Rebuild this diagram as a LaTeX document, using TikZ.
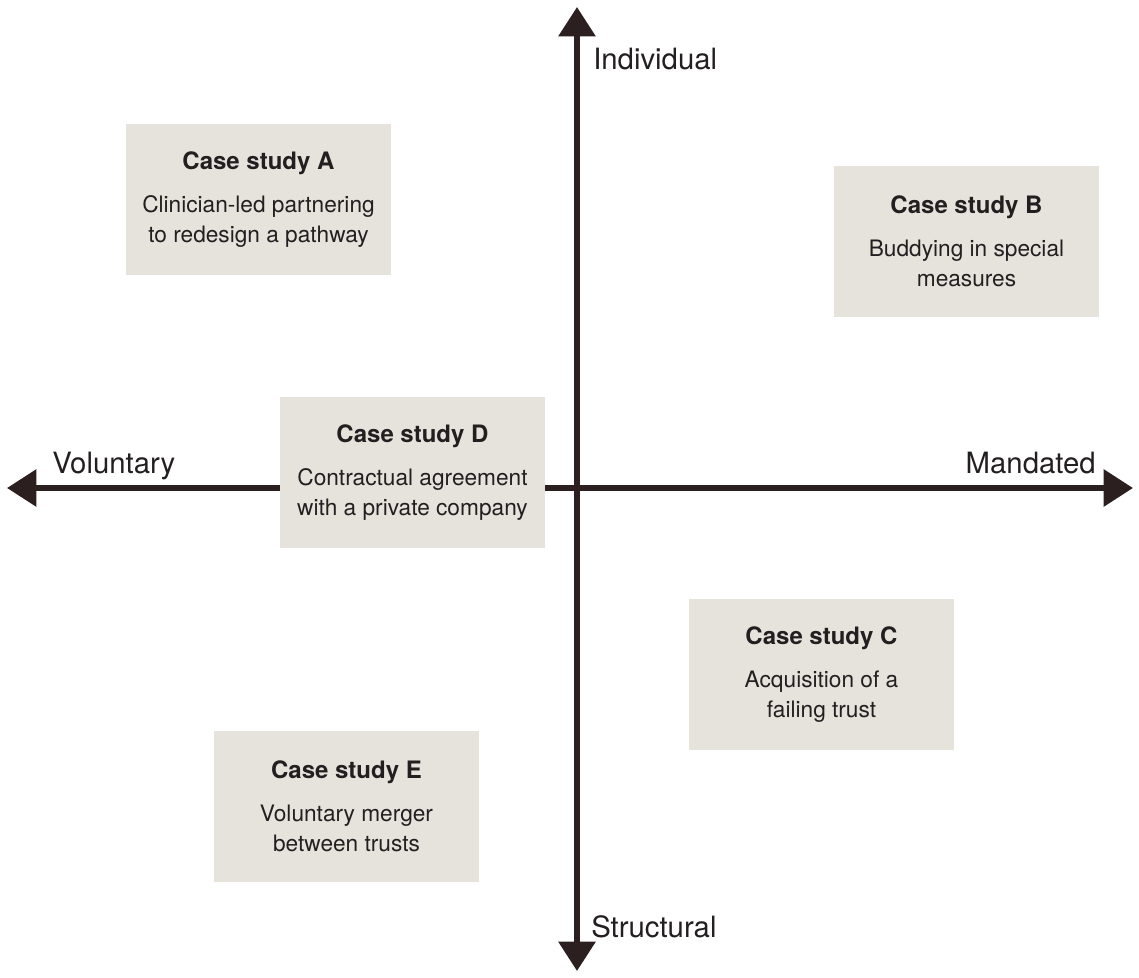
\documentclass[tikz,border=0pt]{standalone}
\usepackage{fontspec}
\setmainfont{TeX Gyre Heros}
\usetikzlibrary{arrows.meta}
\usetikzlibrary{positioning}

\definecolor{axisink}{HTML}{2B1F20}
\definecolor{boxfill}{HTML}{E6E2DC}
\definecolor{textink}{HTML}{231F20}

\tikzset{
  axis/.style={axisink,line width=4.5pt,-{Triangle[length=22pt,width=27pt]}},
  casebox/.style={fill=boxfill,minimum width=198.75pt,minimum height=113.25pt,
    align=center,text=textink,font=\fontsize{17}{22.5}\selectfont},
  axislabel/.style={text=textink,font=\fontsize{22}{24}\selectfont,inner sep=0pt}
}
\newcommand{\casehead}[1]{{\fontsize{18}{22}\selectfont\bfseries #1}\\[9.5pt]}

\begin{document}
\begin{tikzpicture}[x=0.75pt,y=-0.75pt]
      \useasboundingbox (0,0) rectangle (1139,978);
      % axes
      \coordinate (o) at (577,488);
      \coordinate (up) at (577,7);
      \coordinate (down) at (577,971);
      \coordinate (left) at (7,488);
      \coordinate (right) at (1133,488);
      \draw[axis] (o) -- (up);
      \draw[axis] (o) -- (down);
      \draw[axis] (o) -- (left);
      \draw[axis] (o) -- (right);

      \node[axislabel,anchor=base west] (indiv) at (593,69) {Individual};
      \node[axislabel,anchor=base west] (struct) at (591,937) {Structural};
      \node[axislabel,anchor=base west] (volun) at (52,473) {Voluntary};
      \node[axislabel,anchor=base east] (mand) at (1096,473) {Mandated};

      % case studies
      \node[casebox] (csA) at (258.5,199.5) {\casehead{Case study A}
        Clinician-led partnering\\to redesign a pathway};
      \node[casebox] (csB) at (966.5,241.5) {\casehead{Case study B}
        Buddying in special\\measures};
      \node[casebox] (csD) at (412.5,472.5) {\casehead{Case study D}
        Contractual agreement\\with a private company};
      \node[casebox] (csC) at (821.5,674.5) {\casehead{Case study C}
        Acquisition of a\\failing trust};
      \node[casebox] (csE) at (346.5,806.5) {\casehead{Case study E}
        Voluntary merger\\between trusts};
    \end{tikzpicture}
\end{document}
